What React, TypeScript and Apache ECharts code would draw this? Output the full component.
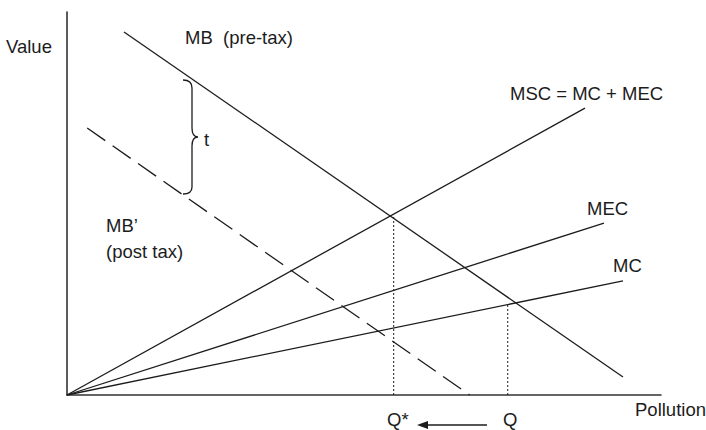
import React, { useEffect, useRef } from "react";
import * as echarts from "echarts";

// Curves (x: pollution 0-100, y: value 0-100)
const mbPreTax = [[9.6, 94.8], [93.6, 4.7]];
const mbPostTax = [[3.4, 69.7], [67.8, 0]];
const msc = [[0, 0], [87.2, 74.9]];
const mec = [[0, 0], [90.4, 44.9]];
const mc = [[0, 0], [93.6, 29.8]];
const qStarLine = [[55.0, 0], [55.0, 46.7]];
const qLine = [[74.2, 0], [74.2, 23.8]];

const labels = [
  { text: "Value", x: 6, y: 46 },
  { text: "MB  (pre-tax)", x: 185, y: 37 },
  { text: "MSC = MC + MEC", x: 510, y: 93 },
  { text: "MEC", x: 587, y: 208 },
  { text: "MC", x: 613, y: 265 },
  { text: "MB\u2019", x: 106, y: 225 },
  { text: "(post tax)", x: 106, y: 251 },
  { text: "Pollution", x: 635, y: 409 },
  { text: "Q*", x: 387, y: 419 },
  { text: "Q", x: 503, y: 419 },
  { text: "t", x: 204, y: 139 },
];

const INK = "#1c1c1c";
const FONT = '"Liberation Sans", Arial, Helvetica, sans-serif';

const braceD =
  "M183 80 C189 80 192 83 192 88 L192 128 C192 134 194 137 198 137 C194 137 192 140 192 146 L192 187 C192 191 189 194 183 194";

let registered = false;
function ensureShapes() {
  if (registered) return;
  echarts.graphic.registerShape("brace", echarts.graphic.extendPath(braceD, {}) as any);
  registered = true;
}

export default function App() {
  const ref = useRef<HTMLDivElement>(null);
  useEffect(() => {
    if (!ref.current) return;
    ensureShapes();
    const chart = echarts.init(ref.current, undefined, { renderer: "svg" });
    const lineSeries = (data: number[][], type: any, width = 1.3) => ({
      type: "line",
      data,
      symbol: "none",
      silent: true,
      lineStyle: { color: INK, width, type },
    });
    chart.setOption({
      animation: false,
      backgroundColor: "#ffffff",
      grid: { left: 67, right: 45, top: 12, bottom: 35 },
      xAxis: {
        type: "value",
        min: 0,
        max: 100,
        axisLine: { show: true, lineStyle: { color: "#333", width: 1.6 } },
        axisTick: { show: false },
        axisLabel: { show: false },
        splitLine: { show: false },
      },
      yAxis: {
        type: "value",
        min: 0,
        max: 100,
        axisLine: { show: true, lineStyle: { color: "#333", width: 1.6 } },
        axisTick: { show: false },
        axisLabel: { show: false },
        splitLine: { show: false },
      },
      series: [
        lineSeries(mbPreTax, "solid"),
        lineSeries(mbPostTax, [22, 9]),
        lineSeries(msc, "solid"),
        lineSeries(mec, "solid"),
        lineSeries(mc, "solid"),
        lineSeries(qStarLine, [2, 2], 1),
        lineSeries(qLine, [2, 2], 1),
      ],
      graphic: [
        ...labels.map((l) => ({
          type: "text",
          x: l.x,
          y: l.y,
          silent: true,
          style: {
            text: l.text,
            fill: INK,
            font: `18.5px ${FONT}`,
            lineHeight: 15,
            verticalAlign: "middle",
            align: "left",
          },
        })),
        {
          type: "brace",
          x: 0,
          y: 0,
          silent: true,
          style: { fill: "none", stroke: INK, lineWidth: 1.3 },
        },
        {
          type: "line",
          silent: true,
          shape: { x1: 487, y1: 425, x2: 424, y2: 425 },
          style: { stroke: INK, lineWidth: 1.4 },
        },
        {
          type: "polygon",
          silent: true,
          shape: { points: [[417, 425], [428, 421], [428, 429]] },
          style: { fill: INK },
        },
      ],
    });
    return () => chart.dispose();
  }, []);
  return (
    <div
      ref={ref}
      style={{ position: "absolute", left: 0, top: 0, width: 706, height: 430 }}
    />
  );
}
